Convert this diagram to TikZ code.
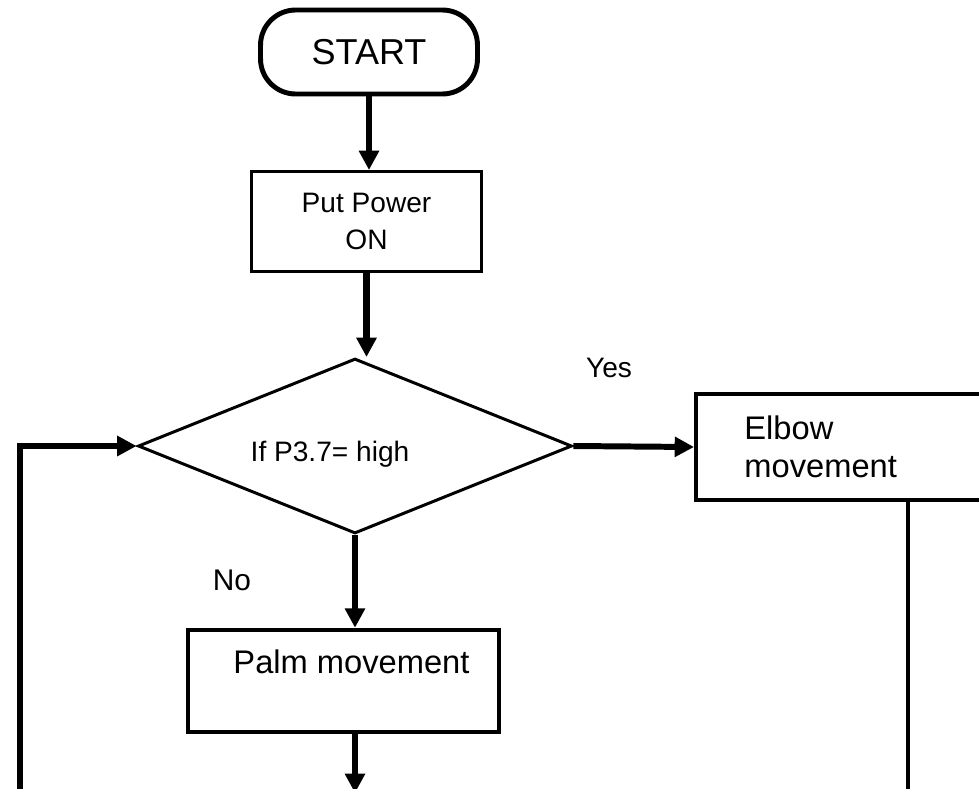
\documentclass[tikz,border=0pt]{standalone}
\usepackage{fontspec}
\setmainfont{Liberation Sans}
\usetikzlibrary{shapes.geometric,arrows.meta,positioning}

\begin{document}
\begin{tikzpicture}[
x=0.02cm, y=-0.02cm,
box/.style={
	draw, rectangle, inner sep=0pt,
	text=black, align=center
},
flow/.style={
	line width=3.4pt,
	-{Triangle[length=11pt,width=11pt]}
},
txt/.style={font=\fontsize{16}{19}\selectfont},
big/.style={font=\fontsize{18.6}{21.5}\selectfont}
]
\useasboundingbox (0,0) rectangle (979,788);
\clip (0,0) rectangle (979,788);
\node[box, rounded corners=20pt, line width=2.8pt, minimum width=4.34cm,
	minimum height=1.68cm, font=\fontsize{20.5}{24}\selectfont] (start) at (369,52) {START};
\node[box, line width=1.7pt, minimum width=4.6cm, minimum height=2cm,
	font=\fontsize{16}{21}\selectfont] (power) at (366.5,221.5) {Put Power\\ON};
\node[shape=diamond, draw, line width=1.7pt, inner sep=0pt,
	minimum width=8.68cm, minimum height=3.5cm,
	label={[txt, xshift=-0.5cm, yshift=-0.16cm]center:If P3.7= high}] (cond) at (355,446) {};
\node[box, line width=2.3pt, minimum width=8.48cm, minimum height=2.12cm,
	label={[big, anchor=west, align=left, inner sep=0pt, xshift=1cm]west:Elbow\\movement}] (elbow) at (908,447) {};
\node[box, line width=2.6pt, minimum width=6.22cm, minimum height=2.04cm,
	label={[big, xshift=0.16cm, yshift=0.38cm]center:Palm movement}] (palm) at (343.5,681) {};
\node[txt] (yes) at (609,368) {Yes};
\node[font=\fontsize{17}{20}\selectfont] (no) at (232,580) {No};
\coordinate (palmout) at (355,793);
\coordinate (loopin) at (20,800);
\coordinate (elbowout) at (908,800);
% connectors
\draw[flow] (start.south) -- (start.south |- power.north);
\draw[flow, line width=4pt] (power.south) -- (power.south |- cond.north);
\draw[flow] (cond.east) -- (elbow.west);
\draw[flow] (cond.south) -- (cond.south |- palm.north);
\draw[flow] (cond.south |- palm.south) -- (palmout);
\draw[flow] (loopin) |- (cond.west);
\draw[line width=2.3pt] (elbow.south) -- (elbowout);
\end{tikzpicture}
\end{document}
